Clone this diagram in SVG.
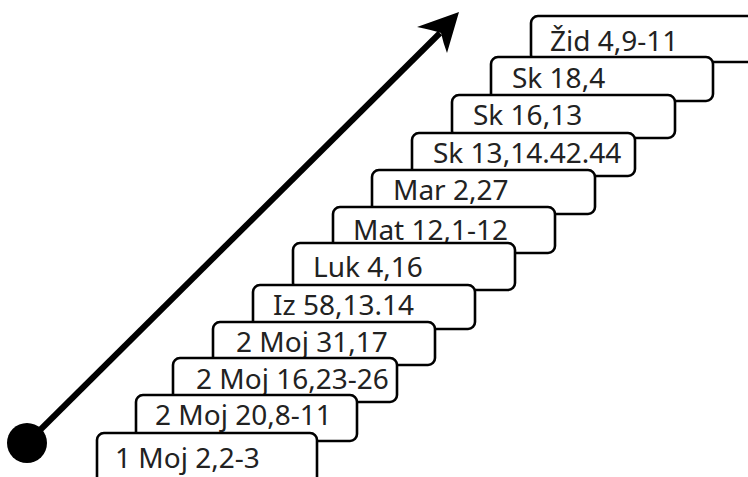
<svg xmlns="http://www.w3.org/2000/svg" width="748" height="477" viewBox="0 0 748 477">
<style>
.box{fill:#fff;stroke:#000;stroke-width:2.6}
.lbl{font-family:"Noto Sans","DejaVu Sans",sans-serif;font-size:28px;fill:#222}
</style>
<rect width="748" height="477" fill="#fff"/>
<g id="n12"><rect class="box" x="531" y="16" width="224" height="46" rx="7"/><text class="lbl" x="550" y="51">Žid 4,9-11</text></g>
<g id="n11"><rect class="box" x="491" y="57" width="222" height="44" rx="7"/><text class="lbl" x="512" y="88">Sk 18,4</text></g>
<g id="n10"><rect class="box" x="452" y="95" width="223" height="43" rx="7"/><text class="lbl" x="473" y="125">Sk 16,13</text></g>
<g id="n9"><rect class="box" x="412" y="133" width="223" height="43" rx="7"/><text class="lbl" x="433" y="163">Sk 13,14.42.44</text></g>
<g id="n8"><rect class="box" x="372" y="170" width="223" height="44" rx="7"/><text class="lbl" x="393" y="200">Mar 2,27</text></g>
<g id="n7"><rect class="box" x="333" y="207" width="222" height="46" rx="7"/><text class="lbl" x="353" y="240">Mat 12,1-12</text></g>
<g id="n6"><rect class="box" x="293" y="243" width="222" height="47" rx="7"/><text class="lbl" x="313" y="277">Luk 4,16</text></g>
<g id="n5"><rect class="box" x="253" y="285" width="222" height="44" rx="7"/><text class="lbl" x="273" y="315">Iz 58,13.14</text></g>
<g id="n4"><rect class="box" x="213" y="322" width="222" height="43" rx="7"/><text class="lbl" x="236" y="352">2 Moj 31,17</text></g>
<g id="n3"><rect class="box" x="173" y="358" width="224" height="44" rx="7"/><text class="lbl" x="196" y="389">2 Moj 16,23-26</text></g>
<g id="n2"><rect class="box" x="136" y="395" width="221" height="46" rx="7"/><text class="lbl" x="155" y="425">2 Moj 20,8-11</text></g>
<g id="n1"><rect class="box" x="97" y="433" width="220" height="60" rx="7"/><text class="lbl" x="115" y="468">1 Moj 2,2-3</text></g>
<g id="connectors">
<line x1="27" y1="443" x2="440" y2="33" stroke="#000" stroke-width="6"/>
<path d="M459,12 L417,27 Q432,30 441,33 Q443,42 447,53 Z" fill="#000"/>
<circle cx="27" cy="443" r="20" fill="#000"/>
</g>
</svg>
